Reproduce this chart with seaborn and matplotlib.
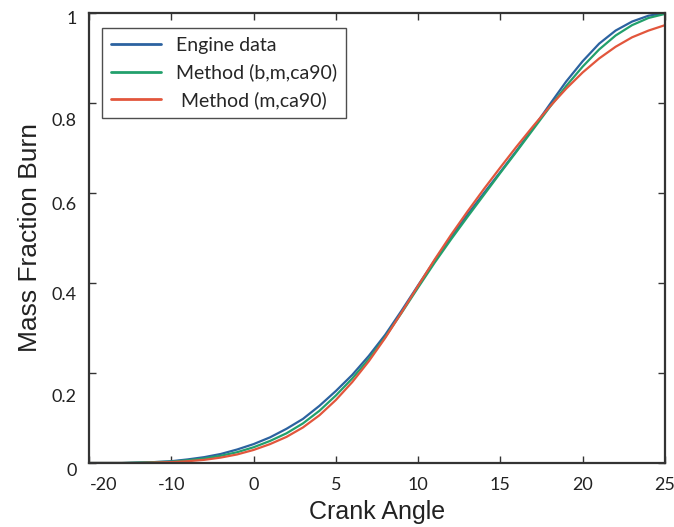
import numpy as np
import pandas as pd
import matplotlib
matplotlib.use("Agg")
import matplotlib.pyplot as plt
import matplotlib.transforms as mtransforms
import seaborn as sns

# ---- data (axis units) ----
crank_angle = list(range(-10, 26))
engine_data = [0, 0, 0, 0.001, 0.002, 0.004, 0.008, 0.013, 0.020, 0.030,
               0.042, 0.057, 0.076, 0.098, 0.127, 0.160, 0.196, 0.238, 0.285, 0.339,
               0.395, 0.450, 0.502, 0.552, 0.600, 0.647, 0.695, 0.745, 0.797, 0.848,
               0.893, 0.932, 0.961, 0.981, 0.994, 1.0]
method_b_m_ca90 = [0, 0, 0, 0.001, 0.002, 0.003, 0.006, 0.010, 0.016, 0.024,
                   0.035, 0.049, 0.066, 0.088, 0.116, 0.150, 0.188, 0.231, 0.280, 0.334,
                   0.390, 0.445, 0.497, 0.547, 0.596, 0.645, 0.693, 0.742, 0.791, 0.838,
                   0.881, 0.919, 0.950, 0.973, 0.989, 0.998]
method_m_ca90 = [0, 0, 0, 0.0, 0.001, 0.002, 0.004, 0.007, 0.012, 0.019,
                 0.029, 0.042, 0.058, 0.079, 0.106, 0.140, 0.180, 0.226, 0.278, 0.335,
                 0.394, 0.452, 0.507, 0.559, 0.609, 0.657, 0.704, 0.749, 0.792, 0.832,
                 0.868, 0.899, 0.925, 0.946, 0.961, 0.973]
series_names = ["Engine data", "Method (b,m,ca90)", " Method (m,ca90)"]
x_tick_pos = [-10, -5, 0, 5, 10, 15, 20, 25]
x_tick_labels = ["-20", "-10", "0", "5", "10", "15", "20", "25"]
y_tick_pos = [0, 0.2, 0.4, 0.6, 0.8, 1.0]
y_tick_labels = ["0", "0.2", "0.4", "0.6", "0.8", "1"]

colors = ["#2c62a0", "#22a06c", "#e2563c"]

df = pd.concat([
    pd.DataFrame({"Crank Angle": crank_angle, "MFB": vals, "series": name})
    for name, vals in zip(series_names, [engine_data, method_b_m_ca90, method_m_ca90])
], ignore_index=True)

sns.set_theme(style="ticks")
plt.rcParams["font.family"] = ["Lato", "DejaVu Sans"]

fig = plt.figure(figsize=(6.74, 5.27), dpi=100)
ax = fig.add_axes([89 / 674, 1 - 463 / 527, 576 / 674, 450 / 527])

sns.lineplot(data=df, x="Crank Angle", y="MFB", hue="series",
             palette=dict(zip(series_names, colors)), linewidth=1.6,
             ax=ax, legend=False, sort=False)

ax.set_xlim(-10, 25)
ax.set_ylim(0, 1)
ax.set_xticks(x_tick_pos)
ax.set_xticklabels(x_tick_labels)
ax.set_yticks(y_tick_pos)
ax.set_yticklabels(y_tick_labels)
ax.tick_params(direction="in", length=5, width=1, colors="#333333",
               labelcolor="#222222", labelsize=13, top=True, right=True)
ax.tick_params(axis="x", pad=10)
ax.tick_params(axis="y", pad=9)

# small offsets of tick labels as in the reference
lbls = ax.get_xticklabels()
lbls[0].set_transform(lbls[0].get_transform() +
                      mtransforms.ScaledTranslation(15 / 100, 0, fig.dpi_scale_trans))
for lab, dy in zip(ax.get_yticklabels(), [7, 22, 11, 10, 16, 4]):
    lab.set_transform(lab.get_transform() +
                      mtransforms.ScaledTranslation(0, -dy / 100, fig.dpi_scale_trans))

for sp in ax.spines.values():
    sp.set_color("#333333")
    sp.set_linewidth(1.6)

ax.set_xlabel("Crank Angle", fontsize=18, family=["Liberation Sans", "DejaVu Sans"],
              color="#222222", labelpad=5)
ax.set_ylabel("Mass Fraction Burn", fontsize=19, family=["Liberation Sans", "DejaVu Sans"],
              color="#222222", labelpad=7)

handles = [plt.Line2D([], [], color=c, linewidth=2) for c in colors]
leg = ax.legend(handles, series_names, loc="upper left",
                bbox_to_anchor=(13 / 576, 1 - 15 / 450), fontsize=14,
                frameon=True, fancybox=False, edgecolor="#222222",
                handlelength=2.6, handletextpad=0.75, labelspacing=0.5,
                borderpad=0.45, borderaxespad=0)
leg.get_frame().set_linewidth(1.0)

fig.savefig("out.png", dpi=100)
